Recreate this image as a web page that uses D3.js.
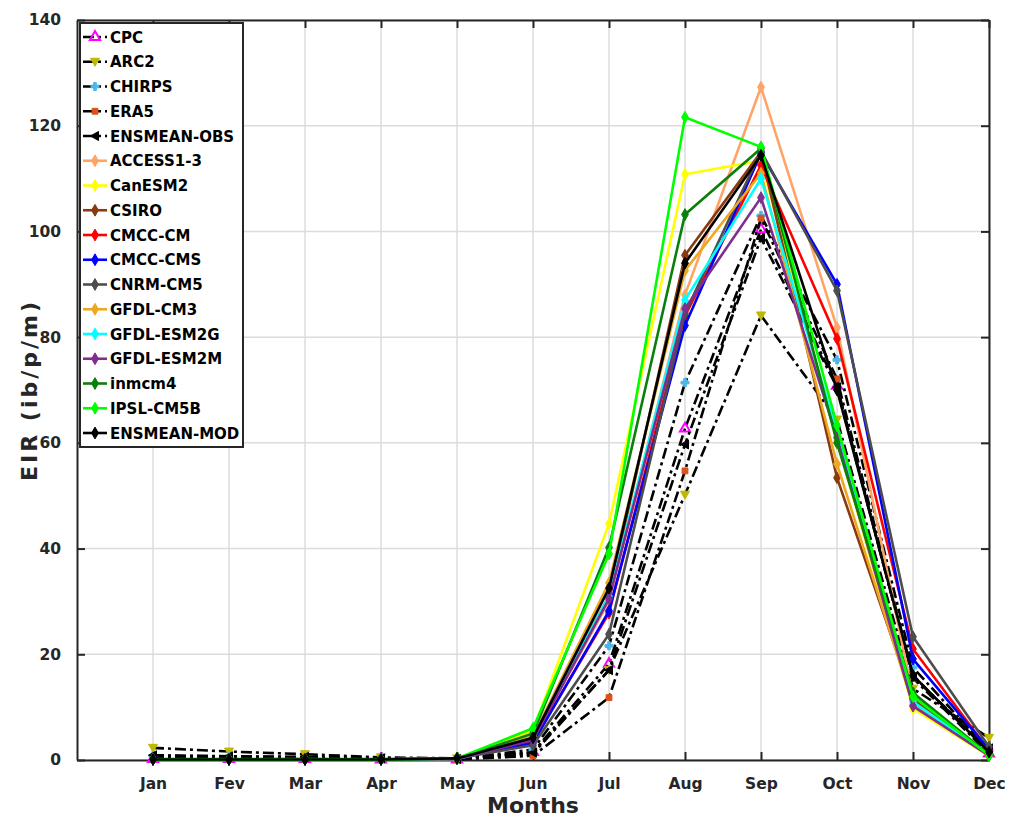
<!DOCTYPE html>
<html>
<head>
<meta charset="utf-8">
<script src="https://cdn.jsdelivr.net/npm/d3@7"></script>
<style>
  body { margin: 0; background: #fff; }
  text { font-family: "DejaVu Sans", sans-serif; font-weight: bold; }
</style>
</head>
<body>
<svg id="chart" width="1015" height="819"></svg>
<script>
var months = ["Jan", "Fev", "Mar", "Apr", "May", "Jun", "Jul", "Aug", "Sep", "Oct", "Nov", "Dec"];
var yTicks = [0, 20, 40, 60, 80, 100, 120, 140];

// observations (dash-dot black lines, coloured markers)
var cpc        = [0.2, 0.2, 0.2, 0.1, 0.1, 1.5, 18.2, 62.7, 100.4, 70.8, 15.5, 1.2];
var arc2       = [2.3, 1.6, 1.1, 0.5, 0.3, 1.2, 17.0, 50.2, 84.1, 64.4, 13.5, 4.2];
var chirps     = [0.8, 0.7, 0.5, 0.3, 0.2, 2.0, 21.6, 71.4, 103.0, 75.7, 17.5, 1.8];
var era5       = [0.3, 0.3, 0.4, 0.3, 0.1, 0.8, 11.8, 54.7, 102.5, 72.1, 16.0, 1.5];
var ensmeanObs = [0.9, 0.7, 0.6, 0.3, 0.2, 1.4, 17.0, 59.7, 98.7, 70.5, 15.7, 2.2];

// models
var access13  = [0.1, 0.1, 0.1, 0.1, 0.2, 4.0, 30.0, 88.0, 127.3, 81.8, 12.0, 1.0];
var canesm2   = [0.1, 0.1, 0.1, 0.1, 0.3, 5.5, 44.7, 110.8, 113.4, 60.5, 9.7, 0.8];
var csiro     = [0.1, 0.1, 0.1, 0.1, 0.2, 4.2, 31.0, 95.5, 115.0, 53.4, 11.5, 1.0];
var cmccCm    = [0.1, 0.1, 0.2, 0.1, 0.3, 3.5, 27.8, 84.0, 112.5, 79.7, 21.0, 1.8];
var cmccCms   = [0.1, 0.1, 0.1, 0.1, 0.3, 3.2, 28.2, 82.2, 114.8, 90.0, 19.1, 2.0];
var cnrmCm5   = [0.2, 0.2, 0.2, 0.2, 0.3, 2.8, 23.8, 84.5, 115.2, 88.8, 23.3, 2.5];
var gfdlCm3   = [0.1, 0.1, 0.1, 0.1, 0.2, 4.5, 33.5, 92.6, 111.0, 56.0, 10.5, 0.9];
var gfdlEsm2g = [0.1, 0.1, 0.1, 0.1, 0.2, 4.0, 31.0, 87.0, 110.0, 62.0, 11.0, 0.9];
var gfdlEsm2m = [0.1, 0.1, 0.1, 0.1, 0.2, 3.8, 30.5, 85.4, 106.4, 61.0, 10.2, 0.8];
var inmcm4    = [0.1, 0.1, 0.1, 0.1, 0.3, 5.0, 40.2, 103.2, 115.7, 60.0, 12.7, 1.0];
var ipslCm5b  = [0.1, 0.1, 0.1, 0.1, 0.3, 6.0, 39.0, 121.6, 116.0, 63.3, 12.0, 0.9];
var ensmeanMod = [0.1, 0.1, 0.1, 0.1, 0.3, 4.2, 32.5, 94.0, 114.4, 70.0, 16.0, 1.5];

var series = [
    {name: "CPC", values: cpc, obs: true, color: "#ff00ff", marker: "up"},
    {name: "ARC2", values: arc2, obs: true, color: "#bdb800", marker: "down"},
    {name: "CHIRPS", values: chirps, obs: true, color: "#4db8e8", marker: "star"},
    {name: "ERA5", values: era5, obs: true, color: "#d95319", marker: "square"},
    {name: "ENSMEAN-OBS", values: ensmeanObs, obs: true, color: "#000000", marker: "left"},
    {name: "ACCESS1-3", values: access13, color: "#ffa466"},
    {name: "CanESM2", values: canesm2, color: "#ffff00"},
    {name: "CSIRO", values: csiro, color: "#8b3a10"},
    {name: "CMCC-CM", values: cmccCm, color: "#ff0000"},
    {name: "CMCC-CMS", values: cmccCms, color: "#0000ff"},
    {name: "CNRM-CM5", values: cnrmCm5, color: "#4d4d4d"},
    {name: "GFDL-CM3", values: gfdlCm3, color: "#eda820"},
    {name: "GFDL-ESM2G", values: gfdlEsm2g, color: "#00ffff"},
    {name: "GFDL-ESM2M", values: gfdlEsm2m, color: "#7e2f8e"},
    {name: "inmcm4", values: inmcm4, color: "#0a800a"},
    {name: "IPSL-CM5B", values: ipslCm5b, color: "#00ff00"},
    {name: "ENSMEAN-MOD", values: ensmeanMod, color: "#000000"}
];

var pLeft = 77, pRight = 989, pTop = 20, pBottom = 760;
var axisColor = "#262626";

var svg = d3.select("#chart");
var x = d3.scaleLinear().domain([0, 12]).range([pLeft, pRight]);
var y = d3.scaleLinear().domain([0, 140]).range([pBottom, pTop]);

// grid
svg.append("g").selectAll("line").data(months).enter().append("line")
    .attr("x1", function(d, i) { return x(i + 1) }).attr("x2", function(d, i) { return x(i + 1) })
    .attr("y1", pTop).attr("y2", pBottom)
    .attr("stroke", "#dcdcdc").attr("stroke-width", 1.5);
svg.append("g").selectAll("line").data(yTicks).enter().append("line")
    .attr("x1", pLeft).attr("x2", pRight)
    .attr("y1", function(d) { return y(d) }).attr("y2", function(d) { return y(d) })
    .attr("stroke", "#dcdcdc").attr("stroke-width", 1.5);

// axes with inward ticks, on all four sides
var xAxis = d3.axisBottom(x).tickValues(d3.range(1, 13)).tickFormat(function(d) { return months[d - 1] })
    .tickSizeInner(-8).tickSizeOuter(0).tickPadding(18);
var xTop = d3.axisTop(x).tickValues(d3.range(1, 13)).tickFormat("").tickSizeInner(-8).tickSizeOuter(0);
var yAxis = d3.axisLeft(y).tickValues(yTicks).tickSizeInner(-8).tickSizeOuter(0).tickPadding(16);
var yRight = d3.axisRight(y).tickValues(yTicks).tickFormat("").tickSizeInner(-8).tickSizeOuter(0);

function styleAxis(g) {
    g.select(".domain").attr("stroke", axisColor).attr("stroke-width", 2);
    g.selectAll(".tick line").attr("stroke", axisColor).attr("stroke-width", 2);
    g.selectAll(".tick text").attr("fill", axisColor).attr("font-size", 15.5)
        .attr("font-family", "DejaVu Sans").attr("font-weight", "bold");
}
svg.append("g").attr("transform", "translate(0," + pBottom + ")").call(xAxis).call(styleAxis);
svg.append("g").attr("transform", "translate(0," + pTop + ")").call(xTop).call(styleAxis);
svg.append("g").attr("transform", "translate(" + pLeft + ",0)").call(yAxis).call(styleAxis);
svg.append("g").attr("transform", "translate(" + pRight + ",0)").call(yRight).call(styleAxis);

// lines
var line = d3.line().x(function(d, i) { return x(i + 1) }).y(function(d) { return y(d) });

function markerPath(kind) {
    if (kind == "up") return d3.symbol().type(d3.symbolTriangle).size(45)();
    if (kind == "down") return "M-4.5,-3.5L4.5,-3.5L0,4.5Z";
    if (kind == "left") return "M-4.5,0L3.5,-4.5L3.5,4.5Z";
    if (kind == "square") return d3.symbol().type(d3.symbolSquare).size(34)();
    if (kind == "star") return d3.symbol().type(d3.symbolCross).size(36)();
    return d3.symbol().type(d3.symbolDiamond).size(40)();
}

var groups = svg.append("g").selectAll("g.series").data(series).enter().append("g").attr("class", "series");
groups.append("path")
    .attr("d", function(d) { return line(d.values) })
    .attr("fill", "none")
    .attr("stroke", function(d) { return d.obs ? "#000" : d.color })
    .attr("stroke-width", 2.6)
    .attr("stroke-dasharray", function(d) { return d.obs ? "11,4,3,4" : null });
groups.each(function(s) {
    d3.select(this).selectAll("path.mk").data(s.values).enter().append("path")
        .attr("class", "mk")
        .attr("d", markerPath(s.marker))
        .attr("transform", function(d, i) { return "translate(" + x(i + 1) + "," + y(d) + ")" })
        .attr("fill", s.marker == "up" ? "none" : s.color)
        .attr("stroke", s.color)
        .attr("stroke-width", s.marker == "up" ? 2 : 1);
});

// axis labels
svg.append("text").attr("x", (pLeft + pRight) / 2).attr("y", 813)
    .attr("text-anchor", "middle").attr("font-size", 22).attr("fill", axisColor).text("Months");
svg.append("text").attr("transform", "translate(37," + ((pTop + pBottom) / 2) + ") rotate(-90)")
    .attr("text-anchor", "middle").attr("font-size", 22).attr("letter-spacing", 3)
    .attr("fill", axisColor).text("EIR (ib/p/m)");

// legend
var lg = svg.append("g");
lg.append("rect").attr("x", 80).attr("y", 23).attr("width", 163).attr("height", 424)
    .attr("fill", "#fff").attr("stroke", axisColor).attr("stroke-width", 2);
var rows = lg.selectAll("g.row").data(series).enter().append("g")
    .attr("transform", function(d, i) { return "translate(0," + (37 + i * 24.75) + ")" });
rows.append("line").attr("x1", 83).attr("x2", 107).attr("y1", 0).attr("y2", 0)
    .attr("stroke", function(d) { return d.obs ? "#000" : d.color })
    .attr("stroke-width", 2.6)
    .attr("stroke-dasharray", function(d) { return d.obs ? "11,4,3,4" : null });
rows.append("path")
    .attr("d", function(d) { return markerPath(d.marker) })
    .attr("transform", "translate(95,0)")
    .attr("fill", function(d) { return d.marker == "up" ? "none" : d.color })
    .attr("stroke", function(d) { return d.color })
    .attr("stroke-width", function(d) { return d.marker == "up" ? 2 : 1 });
rows.append("text").attr("x", 110).attr("y", 5.5).attr("font-size", 15).attr("fill", "#000")
    .text(function(d) { return d.name });
</script>
</body>
</html>
